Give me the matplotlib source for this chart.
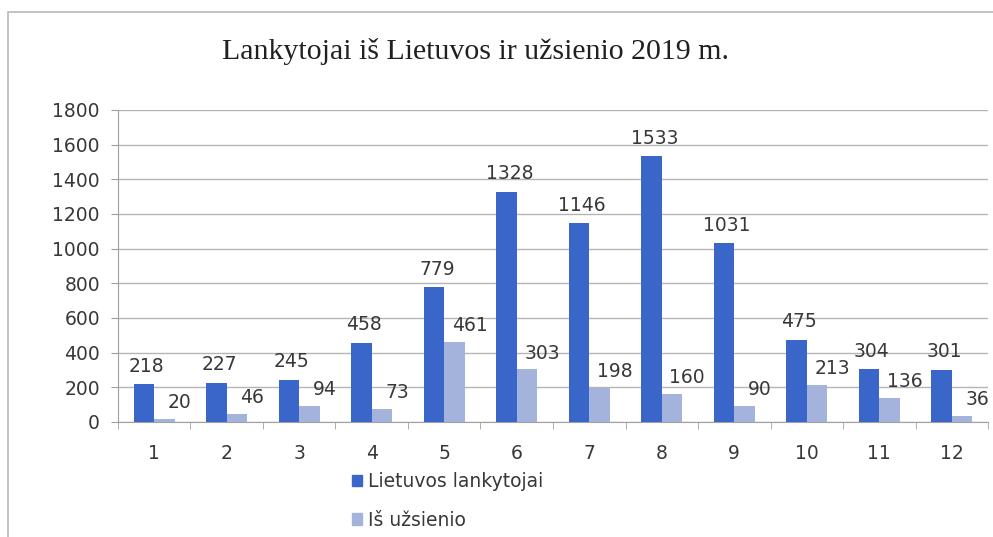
import numpy as np
import matplotlib.pyplot as plt
from matplotlib.patches import Patch, Rectangle

months = ["1", "2", "3", "4", "5", "6", "7", "8", "9", "10", "11", "12"]
lietuvos = [218, 227, 245, 458, 779, 1328, 1146, 1533, 1031, 475, 304, 301]
uzsienio = [20, 46, 94, 73, 461, 303, 198, 160, 90, 213, 136, 36]

dark = "#3b66c9"
light = "#a3b3dc"
txt = "#383838"
fnt = "DejaVu Sans"

fig = plt.figure(figsize=(9.93, 5.37), dpi=100)
ax = fig.add_axes([0.1188, 0.2142, 0.8762, 0.581])

# frame round the chart like the pasted excel object
fig.patches.append(Rectangle((0.008, -0.05), 1.2, 1.028, transform=fig.transFigure,
                             fill=False, edgecolor="#b8b8b8", lw=1.2))

x = np.arange(len(months))
w = 0.28
b1 = ax.bar(x - w / 2, lietuvos, w, color=dark, zorder=3)
b2 = ax.bar(x + w / 2, uzsienio, w, color=light, zorder=3)

for r, v in zip(b1, lietuvos):
    ax.annotate(str(v), (r.get_x() + r.get_width() / 2, v), xytext=(2, 6),
                textcoords="offset points", ha="center", va="bottom",
                fontsize=13.5, color=txt, family=fnt, annotation_clip=False)
for r, v in zip(b2, uzsienio):
    ax.annotate(str(v), (r.get_x() + r.get_width() / 2, v), xytext=(11, 5),
                textcoords="offset points", ha="center", va="bottom",
                fontsize=13.5, color=txt, family=fnt, annotation_clip=False)

ax.set_ylim(0, 1800)
ax.set_yticks(range(0, 1801, 200))
ax.set_xlim(-0.5, len(months) - 0.5)
ax.set_xticks(x)
ax.set_xticklabels(months)
ax.set_xticks(np.arange(-0.5, len(months)), minor=True)
ax.tick_params(axis="x", which="major", length=0, pad=16, labelsize=13.5, labelcolor=txt)
ax.tick_params(axis="x", which="minor", length=5, color="#a0a0a0")
ax.tick_params(axis="y", length=5, color="#a0a0a0", labelsize=13.5, labelcolor=txt, pad=8)
for lab in ax.get_xticklabels() + ax.get_yticklabels():
    lab.set_family(fnt)

ax.grid(axis="y", color="#b5b5b5", lw=1, zorder=0)
for s in ["top", "right"]:
    ax.spines[s].set_visible(False)
ax.spines["left"].set_color("#a0a0a0")
ax.spines["bottom"].set_color("#a0a0a0")

fig.text(0.479, 0.905, "Lankytojai iš Lietuvos ir užsienio 2019 m.", ha="center",
         va="center", fontsize=21.5, family="Liberation Serif", color="#202020")

handles = [Patch(color=dark, label="Lietuvos lankytojai"),
           Patch(color=light, label="Iš užsienio")]
fig.legend(handles=handles, loc="upper left", bbox_to_anchor=(0.347, 0.135),
           frameon=False, handlelength=0.55, handleheight=0.55, handletextpad=0.3,
           labelspacing=1.05, prop={"family": fnt, "size": 13.5},
           labelcolor=txt, borderaxespad=0)

fig.savefig("out.png", dpi=100)
